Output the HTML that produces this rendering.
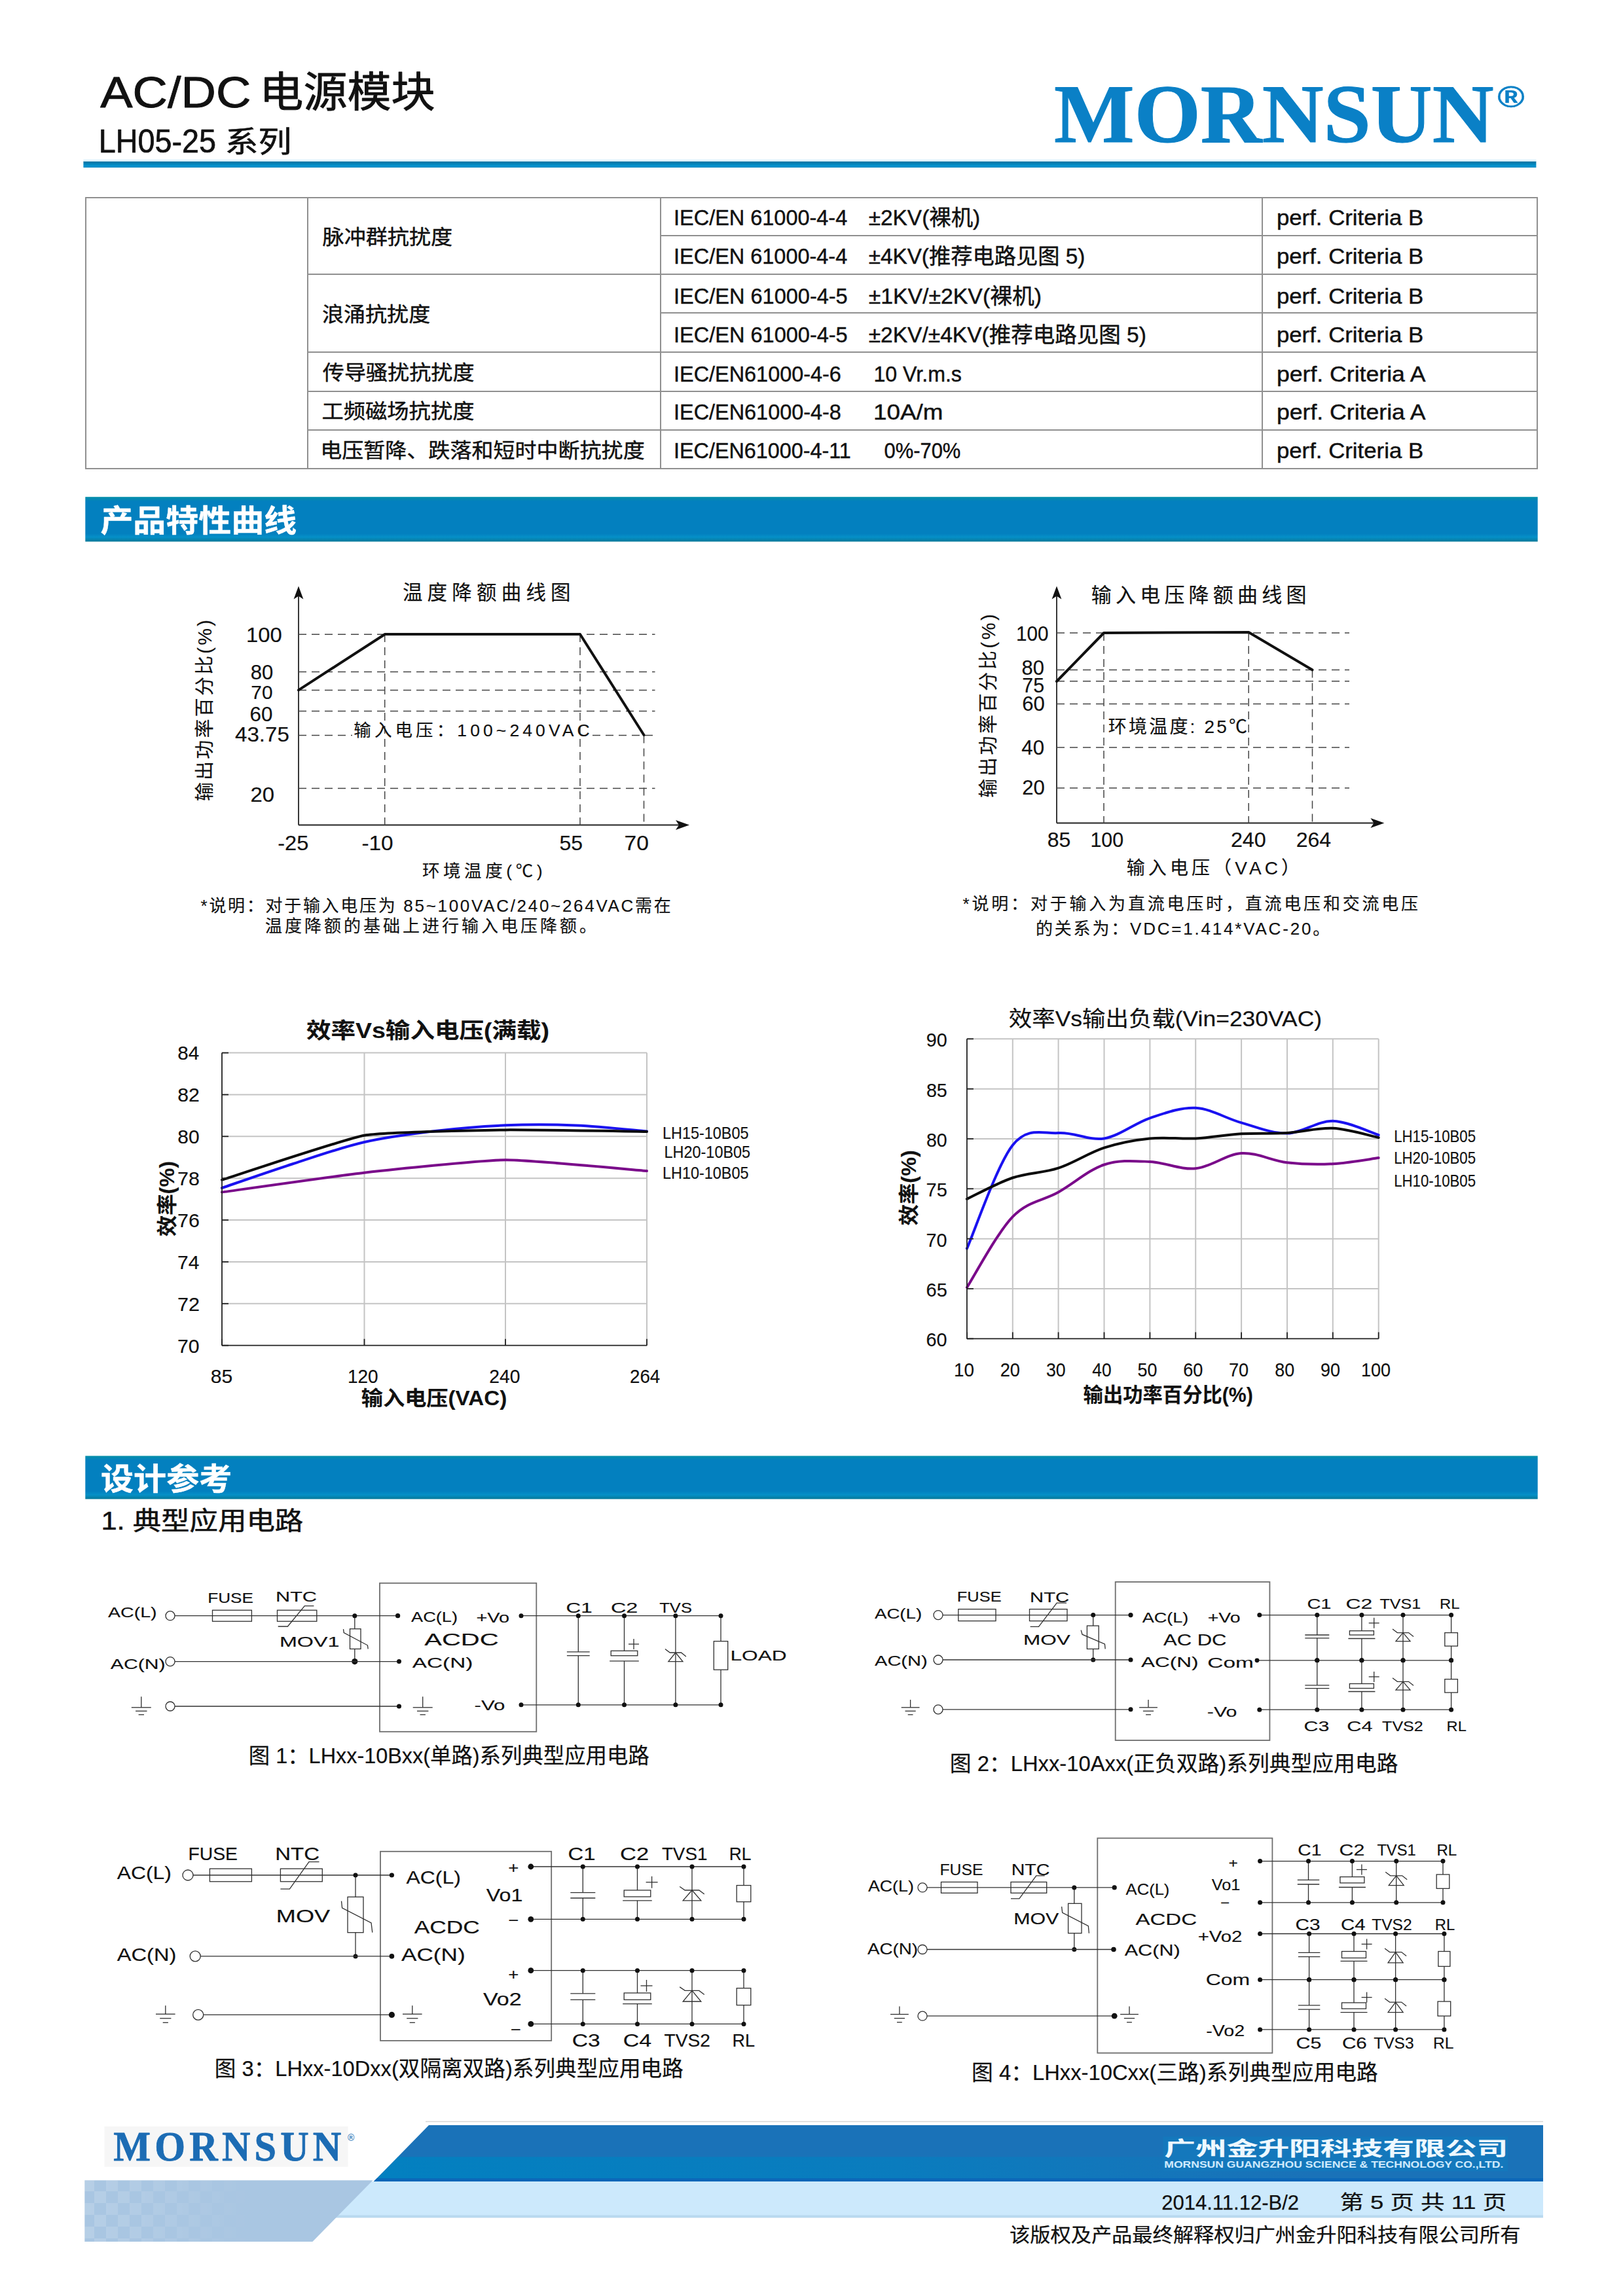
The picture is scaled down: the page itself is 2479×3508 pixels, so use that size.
<!DOCTYPE html>
<html lang="zh-CN"><head><meta charset="utf-8"><title>AC/DC 电源模块 LH05-25 系列</title>
<style>
html,body{margin:0;padding:0;background:#fff;width:2479px;height:3508px;overflow:hidden}
svg{display:block}
text{font-family:"Liberation Sans","Noto Sans CJK SC",sans-serif;color:#111;fill:currentColor;stroke:currentColor;stroke-linejoin:round}
.sf{font-family:"Liberation Serif","Noto Serif CJK SC",serif}
.w{stroke:#303030;stroke-width:1.3;fill:none}
.bx{stroke:#6e6e6e;stroke-width:1.8;fill:none}
.wf{stroke:#303030;stroke-width:1.3;fill:#fff}
.d{fill:#111;stroke:none}
.tb{stroke:#909090;stroke-width:2;fill:none}
.ds{stroke:#444;stroke-width:1.5;stroke-dasharray:12 8;fill:none}
.ax{stroke:#222;stroke-width:1.8;fill:none}
.gr{stroke:#c4c4c4;stroke-width:2;fill:none}
.cv{fill:none;stroke-width:4;stroke-linejoin:round;stroke-linecap:round}
</style></head>
<body>
<svg width="2479" height="3508" viewBox="0 0 2479 3508">
<defs><linearGradient id="rule" x1="0" y1="0" x2="0" y2="1"><stop offset="0" stop-color="#0a6f9c"/><stop offset="0.35" stop-color="#0480b4"/><stop offset="0.8" stop-color="#0096d2"/><stop offset="1" stop-color="#0383b8"/></linearGradient><linearGradient id="bar" x1="0" y1="0" x2="0" y2="1"><stop offset="0" stop-color="#0590a8"/><stop offset="0.1" stop-color="#0380bf"/><stop offset="0.82" stop-color="#0380bf"/><stop offset="0.9" stop-color="#0590c8"/><stop offset="1" stop-color="#067898"/></linearGradient></defs>
<text x="153.3" y="163.6" font-size="67.1" stroke-width="0.94" textLength="230" lengthAdjust="spacingAndGlyphs">AC/DC</text>
<text x="396.3" y="163.3" font-size="63.5" stroke-width="0.89" textLength="268.4" lengthAdjust="spacingAndGlyphs">电源模块</text>
<text x="150.7" y="232.9" font-size="50.4" stroke-width="0.71" textLength="179.3" lengthAdjust="spacingAndGlyphs">LH05-25</text>
<text x="343.8" y="232.9" font-size="45.6" stroke-width="0.64" textLength="101.6" lengthAdjust="spacingAndGlyphs">系列</text>
<rect x="127.4" y="246.4" width="2219" height="9.6" fill="url(#rule)"/>
<rect x="127.4" y="243.5" width="2219" height="3" fill="#e2f4fd"/>
<text x="1610.1" y="216.5" font-size="128.1" stroke-width="1.08" textLength="671.5" lengthAdjust="spacingAndGlyphs" font-weight="bold" style="color:#0a80c6" class="sf">MORNSUN</text>
<text x="2287.2" y="164" font-size="46" stroke-width="0.39" textLength="41.5" lengthAdjust="spacingAndGlyphs" font-weight="bold" style="color:#0a80c6">®</text>
<rect x="131" y="302" width="2217" height="414" class="tb"/>
<line x1="470" y1="302" x2="470" y2="716" class="tb"/>
<line x1="1009" y1="302" x2="1009" y2="716" class="tb"/>
<line x1="1928" y1="302" x2="1928" y2="716" class="tb"/>
<line x1="1009" y1="360" x2="2348" y2="360" class="tb"/>
<line x1="470" y1="419" x2="2348" y2="419" class="tb"/>
<line x1="1009" y1="478" x2="2348" y2="478" class="tb"/>
<line x1="470" y1="538" x2="2348" y2="538" class="tb"/>
<line x1="470" y1="598" x2="2348" y2="598" class="tb"/>
<line x1="470" y1="657" x2="2348" y2="657" class="tb"/>
<text x="492.6" y="372.5" font-size="31" stroke-width="0.43" textLength="198.5" lengthAdjust="spacingAndGlyphs">脉冲群抗扰度</text>
<text x="492" y="490.8" font-size="31" stroke-width="0.43" textLength="165.2" lengthAdjust="spacingAndGlyphs">浪涌抗扰度</text>
<text x="492.8" y="579.6" font-size="31" stroke-width="0.43" textLength="231.7" lengthAdjust="spacingAndGlyphs">传导骚扰抗扰度</text>
<text x="491.6" y="638.7" font-size="31" stroke-width="0.43" textLength="232.8" lengthAdjust="spacingAndGlyphs">工频磁场抗扰度</text>
<text x="489.2" y="699.2" font-size="31" stroke-width="0.43" textLength="495.5" lengthAdjust="spacingAndGlyphs">电压暂降、跌落和短时中断抗扰度</text>
<text x="1029.1" y="344.4" font-size="33" stroke-width="0.46" textLength="265.1" lengthAdjust="spacingAndGlyphs">IEC/EN 61000-4-4</text>
<text x="1029.1" y="403.4" font-size="33" stroke-width="0.46" textLength="265.1" lengthAdjust="spacingAndGlyphs">IEC/EN 61000-4-4</text>
<text x="1029.1" y="463.9" font-size="33" stroke-width="0.46" textLength="265.6" lengthAdjust="spacingAndGlyphs">IEC/EN 61000-4-5</text>
<text x="1029.1" y="523.4" font-size="33" stroke-width="0.46" textLength="265.6" lengthAdjust="spacingAndGlyphs">IEC/EN 61000-4-5</text>
<text x="1029.1" y="582.5" font-size="33" stroke-width="0.46" textLength="255.7" lengthAdjust="spacingAndGlyphs">IEC/EN61000-4-6</text>
<text x="1029.1" y="640.9" font-size="33" stroke-width="0.46" textLength="255.7" lengthAdjust="spacingAndGlyphs">IEC/EN61000-4-8</text>
<text x="1029.1" y="699.9" font-size="33" stroke-width="0.46" textLength="270.6" lengthAdjust="spacingAndGlyphs">IEC/EN61000-4-11</text>
<text x="1326.7" y="344.4" font-size="33" stroke-width="0.46" textLength="170.5" lengthAdjust="spacingAndGlyphs">±2KV(裸机)</text>
<text x="1326.7" y="403.4" font-size="33" stroke-width="0.46" textLength="330.7" lengthAdjust="spacingAndGlyphs">±4KV(推荐电路见图 5)</text>
<text x="1326.7" y="463.9" font-size="33" stroke-width="0.46" textLength="264.3" lengthAdjust="spacingAndGlyphs">±1KV/±2KV(裸机)</text>
<text x="1326.7" y="523.4" font-size="33" stroke-width="0.46" textLength="424.2" lengthAdjust="spacingAndGlyphs">±2KV/±4KV(推荐电路见图 5)</text>
<text x="1334.4" y="582.5" font-size="33" stroke-width="0.46" textLength="134.5" lengthAdjust="spacingAndGlyphs">10 Vr.m.s</text>
<text x="1334" y="640.9" font-size="33" stroke-width="0.46" textLength="106.4" lengthAdjust="spacingAndGlyphs">10A/m</text>
<text x="1350.5" y="699.9" font-size="33" stroke-width="0.46" textLength="116.8" lengthAdjust="spacingAndGlyphs">0%-70%</text>
<text x="1949.9" y="344.4" font-size="33" stroke-width="0.46" textLength="224.2" lengthAdjust="spacingAndGlyphs">perf. Criteria B</text>
<text x="1949.9" y="403.4" font-size="33" stroke-width="0.46" textLength="224.2" lengthAdjust="spacingAndGlyphs">perf. Criteria B</text>
<text x="1949.9" y="463.9" font-size="33" stroke-width="0.46" textLength="224.2" lengthAdjust="spacingAndGlyphs">perf. Criteria B</text>
<text x="1949.9" y="523.4" font-size="33" stroke-width="0.46" textLength="224.2" lengthAdjust="spacingAndGlyphs">perf. Criteria B</text>
<text x="1949.9" y="582.5" font-size="33" stroke-width="0.46" textLength="227.7" lengthAdjust="spacingAndGlyphs">perf. Criteria A</text>
<text x="1949.9" y="640.9" font-size="33" stroke-width="0.46" textLength="227.7" lengthAdjust="spacingAndGlyphs">perf. Criteria A</text>
<text x="1949.9" y="699.9" font-size="33" stroke-width="0.46" textLength="224.2" lengthAdjust="spacingAndGlyphs">perf. Criteria B</text>
<rect x="130.3" y="759.2" width="2218.4" height="68.3" fill="url(#bar)"/>
<text x="153.4" y="811.5" font-size="47" stroke-width="0.39" textLength="299.8" lengthAdjust="spacingAndGlyphs" font-weight="bold" style="color:#fff">产品特性曲线</text>
<rect x="130.3" y="2224.4" width="2218.4" height="66" fill="url(#bar)"/>
<text x="154" y="2275.5" font-size="47" stroke-width="0.39" textLength="200.3" lengthAdjust="spacingAndGlyphs" font-weight="bold" style="color:#fff">设计参考</text>
<text x="154.4" y="2337" font-size="39" stroke-width="0.55" textLength="308.9" lengthAdjust="spacingAndGlyphs">1. 典型应用电路</text>
<line x1="456" y1="910" x2="456" y2="1260.5" class="ax"/>
<line x1="456" y1="1260.5" x2="1040" y2="1260.5" class="ax"/>
<path d="M456 895.5 L448.6 915.5 L456 910.7 L463.4 915.5 Z" class="d"/>
<path d="M1053 1260.5 L1032 1253.1 L1037 1260.5 L1032 1267.9 Z" class="d"/>
<line x1="456" y1="969.3" x2="1000.5" y2="969.3" class="ds"/>
<line x1="456" y1="1026.5" x2="1000.5" y2="1026.5" class="ds"/>
<line x1="456" y1="1054.4" x2="1000.5" y2="1054.4" class="ds"/>
<line x1="456" y1="1086.4" x2="1000.5" y2="1086.4" class="ds"/>
<line x1="456" y1="1123.4" x2="538" y2="1123.4" class="ds"/>
<line x1="905" y1="1123.4" x2="1000.5" y2="1123.4" class="ds"/>
<line x1="456" y1="1204.6" x2="1000.5" y2="1204.6" class="ds"/>
<line x1="587.7" y1="969" x2="587.7" y2="1260.5" class="ds"/>
<line x1="886" y1="969" x2="886" y2="1260.5" class="ds"/>
<line x1="983.5" y1="1123.4" x2="983.5" y2="1260.5" class="ds"/>
<path d="M456 1054.4 L588 969 L886 969 L983.5 1123" class="cv" stroke="#111" stroke-width="5"/>
<text x="614.9" y="915.8" font-size="30.5" stroke-width="0.18" letter-spacing="7.2">温度降额曲线图</text>
<text x="376" y="981.2" font-size="32" stroke-width="0.19" textLength="54.7" lengthAdjust="spacingAndGlyphs">100</text>
<text x="382.8" y="1038.4" font-size="30.8" stroke-width="0.19" textLength="34.5" lengthAdjust="spacingAndGlyphs">80</text>
<text x="383.3" y="1068.2" font-size="29.9" stroke-width="0.18" textLength="33.2" lengthAdjust="spacingAndGlyphs">70</text>
<text x="381.6" y="1101.9" font-size="30.8" stroke-width="0.19" textLength="34.9" lengthAdjust="spacingAndGlyphs">60</text>
<text x="359" y="1133.2" font-size="30.8" stroke-width="0.19" textLength="82.8" lengthAdjust="spacingAndGlyphs">43.75</text>
<text x="382.4" y="1224.9" font-size="30.8" stroke-width="0.19" textLength="36.6" lengthAdjust="spacingAndGlyphs">20</text>
<text x="424.2" y="1298.5" font-size="30.7" stroke-width="0.18" textLength="47.1" lengthAdjust="spacingAndGlyphs">-25</text>
<text x="552.4" y="1298.5" font-size="30.7" stroke-width="0.18" textLength="48.3" lengthAdjust="spacingAndGlyphs">-10</text>
<text x="854.5" y="1298.5" font-size="31.1" stroke-width="0.19" textLength="35.6" lengthAdjust="spacingAndGlyphs">55</text>
<text x="953.6" y="1298.5" font-size="30.7" stroke-width="0.18" textLength="37.4" lengthAdjust="spacingAndGlyphs">70</text>
<text x="644.9" y="1339.8" font-size="26.5" stroke-width="0.16" letter-spacing="5.6">环境温度(℃)</text>
<text x="540.3" y="1125.1" font-size="26.5" stroke-width="0.16" letter-spacing="5.1">输入电压：100~240VAC</text>
<text x="322.8" y="1224.1" font-size="29" stroke-width="0.17" letter-spacing="3.2" transform="rotate(-90 322.8 1224.1)">输出功率百分比(%)</text>
<text x="306.6" y="1392.9" font-size="26" stroke-width="0.16" letter-spacing="2.7">*说明：对于输入电压为 85~100VAC/240~264VAC需在</text>
<text x="404.9" y="1424" font-size="26" stroke-width="0.16" letter-spacing="4">温度降额的基础上进行输入电压降额。</text>
<line x1="1614" y1="910" x2="1614" y2="1257.5" class="ax"/>
<line x1="1614" y1="1257.5" x2="2100" y2="1257.5" class="ax"/>
<path d="M1614 895.5 L1606.6 915.5 L1614 910.7 L1621.4 915.5 Z" class="d"/>
<path d="M2114.4 1257.5 L2093.4 1250.1 L2098.4 1257.5 L2093.4 1264.9 Z" class="d"/>
<line x1="1614" y1="967" x2="2061" y2="967" class="ds"/>
<line x1="1614" y1="1023.5" x2="2061" y2="1023.5" class="ds"/>
<line x1="1614" y1="1040.8" x2="2061" y2="1040.8" class="ds"/>
<line x1="1614" y1="1075.6" x2="2061" y2="1075.6" class="ds"/>
<line x1="1614" y1="1142" x2="2061" y2="1142" class="ds"/>
<line x1="1614" y1="1203.9" x2="2061" y2="1203.9" class="ds"/>
<line x1="1686" y1="967" x2="1686" y2="1257.5" class="ds"/>
<line x1="1907.2" y1="967" x2="1907.2" y2="1257.5" class="ds"/>
<line x1="2004.5" y1="1023.5" x2="2004.5" y2="1257.5" class="ds"/>
<path d="M1614 1041 L1686 967 L1907.2 966 L2004.5 1023.5" class="cv" stroke="#111" stroke-width="5"/>
<text x="1666.8" y="920.2" font-size="31" stroke-width="0.19" letter-spacing="6.2">输入电压降额曲线图</text>
<text x="1552.1" y="979.4" font-size="31.8" stroke-width="0.19" textLength="49.5" lengthAdjust="spacingAndGlyphs">100</text>
<text x="1560.6" y="1030.6" font-size="31.1" stroke-width="0.19" textLength="34.4" lengthAdjust="spacingAndGlyphs">80</text>
<text x="1561.3" y="1057.9" font-size="31.6" stroke-width="0.19" textLength="33.8" lengthAdjust="spacingAndGlyphs">75</text>
<text x="1561.2" y="1085.7" font-size="31.1" stroke-width="0.19" textLength="34.6" lengthAdjust="spacingAndGlyphs">60</text>
<text x="1560.3" y="1153.4" font-size="31.4" stroke-width="0.19" textLength="34.7" lengthAdjust="spacingAndGlyphs">40</text>
<text x="1561.2" y="1213.6" font-size="31.4" stroke-width="0.19" textLength="34.6" lengthAdjust="spacingAndGlyphs">20</text>
<text x="1599.7" y="1294.3" font-size="31" stroke-width="0.19" textLength="35.6" lengthAdjust="spacingAndGlyphs">85</text>
<text x="1665.5" y="1294.3" font-size="31" stroke-width="0.19" textLength="50.6" lengthAdjust="spacingAndGlyphs">100</text>
<text x="1879.9" y="1294.3" font-size="31" stroke-width="0.19" textLength="53.9" lengthAdjust="spacingAndGlyphs">240</text>
<text x="1979.7" y="1294.3" font-size="31" stroke-width="0.19" textLength="53.5" lengthAdjust="spacingAndGlyphs">264</text>
<text x="1720.7" y="1336.4" font-size="28" stroke-width="0.17" letter-spacing="5.1">输入电压（VAC）</text>
<text x="1692.8" y="1120.3" font-size="28" stroke-width="0.17" letter-spacing="3.2">环境温度: 25℃</text>
<text x="1520.2" y="1218.8" font-size="29" stroke-width="0.17" letter-spacing="3.6" transform="rotate(-90 1520.2 1218.8)">输出功率百分比(%)</text>
<text x="1470.6" y="1390" font-size="26" stroke-width="0.16" letter-spacing="3.8">*说明：对于输入为直流电压时，直流电压和交流电压</text>
<text x="1582" y="1427.6" font-size="26" stroke-width="0.16" letter-spacing="2.8">的关系为：VDC=1.414*VAC-20。</text>
<line x1="556.5" y1="1608.6" x2="556.5" y2="2055.7" class="gr"/>
<line x1="772" y1="1608.6" x2="772" y2="2055.7" class="gr"/>
<line x1="988" y1="1608.6" x2="988" y2="2055.7" class="gr"/>
<line x1="339" y1="1608.6" x2="988" y2="1608.6" class="gr"/>
<line x1="339" y1="1672.5" x2="988" y2="1672.5" class="gr"/>
<line x1="339" y1="1736.3" x2="988" y2="1736.3" class="gr"/>
<line x1="339" y1="1800.2" x2="988" y2="1800.2" class="gr"/>
<line x1="339" y1="1864.1" x2="988" y2="1864.1" class="gr"/>
<line x1="339" y1="1928" x2="988" y2="1928" class="gr"/>
<line x1="339" y1="1991.8" x2="988" y2="1991.8" class="gr"/>
<path d="M339 1821.5 C357.1 1819 520.4 1795.8 556.5 1791.7 C592.6 1787.6 736 1772.5 772 1772.3 C808 1772.1 970 1787.6 988 1789" class="cv" stroke="#7a0a8a"/>
<path d="M339 1815 C357.2 1808.8 411.8 1789.7 448 1778 C484.2 1766.3 520.3 1753.3 556.5 1745 C592.7 1736.7 629.1 1732.3 665 1728 C700.9 1723.7 736.2 1720.7 772 1719.3 C807.8 1717.9 844 1718 880 1719.5 C916 1721 970 1727 988 1728.5" class="cv" stroke="#1a12f0"/>
<path d="M339 1802.7 C353.5 1798.2 527.6 1739.9 556.5 1734.8 C585.4 1729.7 743.2 1726.8 772 1726.4 C800.8 1726 973.6 1728.8 988 1729" class="cv" stroke="#0a0a0a"/>
<line x1="339" y1="1608.6" x2="339" y2="2055.7" class="ax"/>
<line x1="339" y1="2055.7" x2="988" y2="2055.7" class="ax" stroke-width="3"/>
<line x1="339" y1="1608.6" x2="349" y2="1608.6" class="ax"/>
<line x1="339" y1="1672.5" x2="349" y2="1672.5" class="ax"/>
<line x1="339" y1="1736.3" x2="349" y2="1736.3" class="ax"/>
<line x1="339" y1="1800.2" x2="349" y2="1800.2" class="ax"/>
<line x1="339" y1="1864.1" x2="349" y2="1864.1" class="ax"/>
<line x1="339" y1="1928" x2="349" y2="1928" class="ax"/>
<line x1="339" y1="1991.8" x2="349" y2="1991.8" class="ax"/>
<line x1="339" y1="2055.7" x2="349" y2="2055.7" class="ax"/>
<line x1="339" y1="2045.7" x2="339" y2="2055.7" class="ax"/>
<line x1="556.5" y1="2045.7" x2="556.5" y2="2055.7" class="ax"/>
<line x1="772" y1="2045.7" x2="772" y2="2055.7" class="ax"/>
<line x1="988" y1="2045.7" x2="988" y2="2055.7" class="ax"/>
<text x="467.9" y="1586.4" font-size="33" stroke-width="0.12" textLength="371.2" lengthAdjust="spacingAndGlyphs" font-weight="bold">效率Vs输入电压(满载)</text>
<text x="271.3" y="1619.4" font-size="30" stroke-width="0.18" textLength="33" lengthAdjust="spacingAndGlyphs">84</text>
<text x="271.3" y="1683.3" font-size="30" stroke-width="0.18" textLength="33.6" lengthAdjust="spacingAndGlyphs">82</text>
<text x="271.3" y="1747.1" font-size="30" stroke-width="0.18" textLength="33.3" lengthAdjust="spacingAndGlyphs">80</text>
<text x="271" y="1811" font-size="30" stroke-width="0.18" textLength="33.8" lengthAdjust="spacingAndGlyphs">78</text>
<text x="271" y="1874.9" font-size="30" stroke-width="0.18" textLength="33.8" lengthAdjust="spacingAndGlyphs">76</text>
<text x="271" y="1938.8" font-size="30" stroke-width="0.18" textLength="33.3" lengthAdjust="spacingAndGlyphs">74</text>
<text x="271" y="2002.6" font-size="30" stroke-width="0.18" textLength="34" lengthAdjust="spacingAndGlyphs">72</text>
<text x="271" y="2066.5" font-size="30" stroke-width="0.18" textLength="33.6" lengthAdjust="spacingAndGlyphs">70</text>
<text x="321.8" y="2113.1" font-size="30" stroke-width="0.18" textLength="33.5" lengthAdjust="spacingAndGlyphs">85</text>
<text x="530.9" y="2113.1" font-size="30" stroke-width="0.18" textLength="46.7" lengthAdjust="spacingAndGlyphs">120</text>
<text x="747.2" y="2113.1" font-size="30" stroke-width="0.18" textLength="47.2" lengthAdjust="spacingAndGlyphs">240</text>
<text x="962" y="2113.1" font-size="30" stroke-width="0.18" textLength="46.2" lengthAdjust="spacingAndGlyphs">264</text>
<text x="551.8" y="2147.2" font-size="31" stroke-width="0.11" textLength="222.4" lengthAdjust="spacingAndGlyphs" font-weight="bold">输入电压(VAC)</text>
<text x="266" y="1889.3" font-size="31" stroke-width="0.11" textLength="115.4" lengthAdjust="spacingAndGlyphs" font-weight="bold" transform="rotate(-90 266 1889.3)">效率(%)</text>
<text x="1012" y="1740" font-size="25" stroke-width="0.15" textLength="131.5" lengthAdjust="spacingAndGlyphs">LH15-10B05</text>
<text x="1014.6" y="1768.5" font-size="25" stroke-width="0.15" textLength="131.5" lengthAdjust="spacingAndGlyphs">LH20-10B05</text>
<text x="1012" y="1801" font-size="25" stroke-width="0.15" textLength="131.5" lengthAdjust="spacingAndGlyphs">LH10-10B05</text>
<line x1="1546.8" y1="1587.3" x2="1546.8" y2="2045.4" class="gr"/>
<line x1="1616.6" y1="1587.3" x2="1616.6" y2="2045.4" class="gr"/>
<line x1="1686.5" y1="1587.3" x2="1686.5" y2="2045.4" class="gr"/>
<line x1="1756.4" y1="1587.3" x2="1756.4" y2="2045.4" class="gr"/>
<line x1="1826.2" y1="1587.3" x2="1826.2" y2="2045.4" class="gr"/>
<line x1="1896.1" y1="1587.3" x2="1896.1" y2="2045.4" class="gr"/>
<line x1="1966" y1="1587.3" x2="1966" y2="2045.4" class="gr"/>
<line x1="2035.8" y1="1587.3" x2="2035.8" y2="2045.4" class="gr"/>
<line x1="2105.7" y1="1587.3" x2="2105.7" y2="2045.4" class="gr"/>
<line x1="1476.9" y1="1587.3" x2="2105.7" y2="1587.3" class="gr"/>
<line x1="1476.9" y1="1663.7" x2="2105.7" y2="1663.7" class="gr"/>
<line x1="1476.9" y1="1740" x2="2105.7" y2="1740" class="gr"/>
<line x1="1476.9" y1="1816.3" x2="2105.7" y2="1816.3" class="gr"/>
<line x1="1476.9" y1="1892.7" x2="2105.7" y2="1892.7" class="gr"/>
<line x1="1476.9" y1="1969.1" x2="2105.7" y2="1969.1" class="gr"/>
<path d="M1476.9 1967.1 C1488.5 1949.1 1523.4 1883.3 1546.7 1859.1 C1570 1834.8 1593.3 1834.8 1616.6 1821.5 C1639.9 1808.3 1663.2 1787.2 1686.5 1779.5 C1709.8 1771.7 1733.1 1774 1756.3 1775 C1779.6 1775.9 1802.9 1787.5 1826.2 1785.3 C1849.5 1783.2 1872.8 1763.5 1896.1 1762 C1919.4 1760.5 1942.7 1773.6 1966 1776.3 C1989.2 1778.9 2012.5 1779.4 2035.8 1778.2 C2059.1 1777 2094.1 1770.6 2105.7 1769.1" class="cv" stroke="#7a0a8a"/>
<path d="M1476.9 1907.6 C1488.5 1881.3 1523.4 1779.2 1546.7 1749.7 C1570 1720.3 1593.3 1732.7 1616.6 1731 C1639.9 1729.2 1663.2 1743.1 1686.5 1739.4 C1709.8 1735.6 1733.1 1716.1 1756.3 1708.3 C1779.6 1700.6 1802.9 1691.6 1826.2 1692.8 C1849.5 1694 1872.8 1709 1896.1 1715.4 C1919.4 1721.9 1942.7 1732 1966 1731.6 C1989.2 1731.2 2012.5 1712.4 2035.8 1712.8 C2059.1 1713.3 2094.1 1730.6 2105.7 1734.2" class="cv" stroke="#1a12f0"/>
<path d="M1476.9 1831.9 C1488.5 1826.5 1523.4 1807.4 1546.7 1799.5 C1570 1791.7 1593.3 1792.3 1616.6 1784.7 C1639.9 1777 1663.2 1761.2 1686.5 1753.6 C1709.8 1746.1 1733.1 1741.7 1756.3 1739.4 C1779.6 1737 1802.9 1740.6 1826.2 1739.4 C1849.5 1738.2 1872.8 1733.7 1896.1 1732.3 C1919.4 1730.9 1942.7 1732.4 1966 1731 C1989.2 1729.6 2012.5 1722.7 2035.8 1723.8 C2059.1 1725 2094.1 1735.7 2105.7 1738.1" class="cv" stroke="#0a0a0a"/>
<line x1="1476.9" y1="1587.3" x2="1476.9" y2="2045.4" class="ax"/>
<line x1="1476.9" y1="2045.4" x2="2105.7" y2="2045.4" class="ax" stroke-width="3"/>
<line x1="1476.9" y1="1587.3" x2="1486.9" y2="1587.3" class="ax"/>
<line x1="1476.9" y1="1663.7" x2="1486.9" y2="1663.7" class="ax"/>
<line x1="1476.9" y1="1740" x2="1486.9" y2="1740" class="ax"/>
<line x1="1476.9" y1="1816.3" x2="1486.9" y2="1816.3" class="ax"/>
<line x1="1476.9" y1="1892.7" x2="1486.9" y2="1892.7" class="ax"/>
<line x1="1476.9" y1="1969.1" x2="1486.9" y2="1969.1" class="ax"/>
<line x1="1476.9" y1="2045.4" x2="1486.9" y2="2045.4" class="ax"/>
<line x1="1476.9" y1="2035.4" x2="1476.9" y2="2045.4" class="ax"/>
<line x1="1546.8" y1="2035.4" x2="1546.8" y2="2045.4" class="ax"/>
<line x1="1616.6" y1="2035.4" x2="1616.6" y2="2045.4" class="ax"/>
<line x1="1686.5" y1="2035.4" x2="1686.5" y2="2045.4" class="ax"/>
<line x1="1756.4" y1="2035.4" x2="1756.4" y2="2045.4" class="ax"/>
<line x1="1826.2" y1="2035.4" x2="1826.2" y2="2045.4" class="ax"/>
<line x1="1896.1" y1="2035.4" x2="1896.1" y2="2045.4" class="ax"/>
<line x1="1966" y1="2035.4" x2="1966" y2="2045.4" class="ax"/>
<line x1="2035.8" y1="2035.4" x2="2035.8" y2="2045.4" class="ax"/>
<line x1="2105.7" y1="2035.4" x2="2105.7" y2="2045.4" class="ax"/>
<text x="1540.8" y="1567.9" font-size="33" stroke-width="0.20" textLength="478.3" lengthAdjust="spacingAndGlyphs">效率Vs输出负载(Vin=230VAC)</text>
<text x="1414.7" y="1599.1" font-size="30" stroke-width="0.18" textLength="31.9" lengthAdjust="spacingAndGlyphs">90</text>
<text x="1414.9" y="1675.5" font-size="30" stroke-width="0.18" textLength="31.9" lengthAdjust="spacingAndGlyphs">85</text>
<text x="1414.9" y="1751.8" font-size="30" stroke-width="0.18" textLength="31.7" lengthAdjust="spacingAndGlyphs">80</text>
<text x="1414.6" y="1828.1" font-size="30" stroke-width="0.18" textLength="32.2" lengthAdjust="spacingAndGlyphs">75</text>
<text x="1414.6" y="1904.5" font-size="30" stroke-width="0.18" textLength="32" lengthAdjust="spacingAndGlyphs">70</text>
<text x="1414.6" y="1980.9" font-size="30" stroke-width="0.18" textLength="32.2" lengthAdjust="spacingAndGlyphs">65</text>
<text x="1414.6" y="2057.2" font-size="30" stroke-width="0.18" textLength="32" lengthAdjust="spacingAndGlyphs">60</text>
<text x="1457.1" y="2102.8" font-size="30" stroke-width="0.18" textLength="30.9" lengthAdjust="spacingAndGlyphs">10</text>
<text x="1527.7" y="2102.8" font-size="30" stroke-width="0.18" textLength="30.2" lengthAdjust="spacingAndGlyphs">20</text>
<text x="1598" y="2102.8" font-size="30" stroke-width="0.18" textLength="29.7" lengthAdjust="spacingAndGlyphs">30</text>
<text x="1668.3" y="2102.8" font-size="30" stroke-width="0.18" textLength="29.3" lengthAdjust="spacingAndGlyphs">40</text>
<text x="1737.6" y="2102.8" font-size="30" stroke-width="0.18" textLength="29.9" lengthAdjust="spacingAndGlyphs">50</text>
<text x="1807.2" y="2102.8" font-size="30" stroke-width="0.18" textLength="30.2" lengthAdjust="spacingAndGlyphs">60</text>
<text x="1877" y="2102.8" font-size="30" stroke-width="0.18" textLength="30.2" lengthAdjust="spacingAndGlyphs">70</text>
<text x="1947.2" y="2102.8" font-size="30" stroke-width="0.18" textLength="29.9" lengthAdjust="spacingAndGlyphs">80</text>
<text x="2016.9" y="2102.8" font-size="30" stroke-width="0.18" textLength="30" lengthAdjust="spacingAndGlyphs">90</text>
<text x="2078.9" y="2102.8" font-size="30" stroke-width="0.18" textLength="45.1" lengthAdjust="spacingAndGlyphs">100</text>
<text x="1654.6" y="2142" font-size="31" stroke-width="0.11" textLength="259.3" lengthAdjust="spacingAndGlyphs" font-weight="bold">输出功率百分比(%)</text>
<text x="1399" y="1872.5" font-size="31" stroke-width="0.11" textLength="115.3" lengthAdjust="spacingAndGlyphs" font-weight="bold" transform="rotate(-90 1399 1872.5)">效率(%)</text>
<text x="2129.2" y="1745" font-size="25" stroke-width="0.15" textLength="124.9" lengthAdjust="spacingAndGlyphs">LH15-10B05</text>
<text x="2129.2" y="1777.5" font-size="25" stroke-width="0.15" textLength="124.9" lengthAdjust="spacingAndGlyphs">LH20-10B05</text>
<text x="2129.2" y="1813" font-size="25" stroke-width="0.15" textLength="124.9" lengthAdjust="spacingAndGlyphs">LH10-10B05</text>
<rect x="580" y="2418.8" width="239.3" height="227" class="bx"/>
<line x1="267" y1="2468.7" x2="607.6" y2="2468.7" class="w"/>
<circle cx="260" cy="2468.7" r="7" class="wf"/>
<circle cx="607.6" cy="2468.7" r="3.6" class="d"/>
<rect x="324.5" y="2460.2" width="59.9" height="17" class="w"/>
<rect x="423.5" y="2460.2" width="60.3" height="17" class="w"/>
<path d="M424.7 2485 L439.4 2485 L465.3 2453.6 L479.4 2453.6" class="w"/>
<line x1="541.8" y1="2468.7" x2="541.8" y2="2538.6" class="w"/>
<circle cx="541.8" cy="2468.7" r="3.5" class="d"/>
<circle cx="541.8" cy="2538.6" r="4.6" class="d"/>
<rect x="534.5" y="2488.7" width="16.5" height="30.7" class="wf"/>
<path d="M524.5 2489.1 L525.2 2494.6 L561.4 2513.8 L562.2 2519.4" class="w"/>
<line x1="267" y1="2538.6" x2="609.5" y2="2538.6" class="w"/>
<circle cx="260" cy="2538.6" r="7" class="wf"/>
<circle cx="609.5" cy="2538.6" r="3.5" class="d"/>
<line x1="267" y1="2607" x2="609.5" y2="2607" class="w"/>
<circle cx="260" cy="2607" r="7" class="wf"/>
<circle cx="609.5" cy="2607" r="3.5" class="d"/>
<line x1="215.8" y1="2592.2" x2="215.8" y2="2608.8" class="w"/>
<line x1="200.8" y1="2608.8" x2="230.8" y2="2608.8" class="w"/>
<line x1="207.1" y1="2614.3" x2="224.5" y2="2614.3" class="w"/>
<line x1="211.6" y1="2619.8" x2="220" y2="2619.8" class="w"/>
<line x1="645.7" y1="2592.2" x2="645.7" y2="2608.8" class="w"/>
<line x1="630.7" y1="2608.8" x2="660.7" y2="2608.8" class="w"/>
<line x1="637" y1="2614.3" x2="654.4" y2="2614.3" class="w"/>
<line x1="641.5" y1="2619.8" x2="649.9" y2="2619.8" class="w"/>
<line x1="796" y1="2468.7" x2="1101" y2="2468.7" class="w"/>
<circle cx="796" cy="2468.7" r="3.5" class="d"/>
<line x1="796" y1="2604.8" x2="1101" y2="2604.8" class="w"/>
<circle cx="796" cy="2604.8" r="3.5" class="d"/>
<line x1="883.3" y1="2468.7" x2="883.3" y2="2523.8" class="w"/>
<line x1="883.3" y1="2529.7" x2="883.3" y2="2604.8" class="w"/>
<line x1="865.9" y1="2523.8" x2="900.7" y2="2523.8" class="w"/>
<line x1="865.9" y1="2529.7" x2="900.7" y2="2529.7" class="w"/>
<circle cx="883.3" cy="2468.7" r="3.5" class="d"/>
<circle cx="883.3" cy="2604.8" r="3.5" class="d"/>
<line x1="953.5" y1="2468.7" x2="953.5" y2="2522.3" class="w"/>
<line x1="953.5" y1="2537.9" x2="953.5" y2="2604.8" class="w"/>
<rect x="933.2" y="2522.3" width="40.6" height="7.4" class="w"/>
<line x1="931.2" y1="2537.9" x2="975.8" y2="2537.9" class="w"/>
<line x1="960" y1="2512" x2="976" y2="2512" class="w"/>
<line x1="968" y1="2504" x2="968" y2="2520" class="w"/>
<circle cx="953.5" cy="2468.7" r="3.5" class="d"/>
<circle cx="953.5" cy="2604.8" r="3.5" class="d"/>
<line x1="1031.9" y1="2468.7" x2="1031.9" y2="2604.8" class="w"/>
<path d="M1031.9 2525 L1020.9 2538.6 L1042.9 2538.6 L1031.9 2525" class="w"/>
<path d="M1015.9 2519.5 L1023.3 2525 L1040.5 2525 L1047.9 2531" class="w"/>
<circle cx="1031.9" cy="2468.7" r="3.5" class="d"/>
<circle cx="1031.9" cy="2604.8" r="3.5" class="d"/>
<line x1="1101" y1="2468.7" x2="1101" y2="2507.6" class="w"/>
<line x1="1101" y1="2551.2" x2="1101" y2="2604.8" class="w"/>
<rect x="1090.3" y="2507.6" width="21.4" height="43.6" class="w"/>
<circle cx="1101" cy="2468.7" r="3.5" class="d"/>
<circle cx="1101" cy="2604.8" r="3.5" class="d"/>
<text x="165.1" y="2470.5" font-size="22" stroke-width="0.15" textLength="74.5" lengthAdjust="spacingAndGlyphs">AC(L)</text>
<text x="168.8" y="2550.2" font-size="22" stroke-width="0.15" textLength="83.8" lengthAdjust="spacingAndGlyphs">AC(N)</text>
<text x="317.2" y="2449.3" font-size="22" stroke-width="0.15" textLength="69.7" lengthAdjust="spacingAndGlyphs">FUSE</text>
<text x="421" y="2446.7" font-size="22" stroke-width="0.15" textLength="63" lengthAdjust="spacingAndGlyphs">NTC</text>
<text x="426.9" y="2516.2" font-size="22" stroke-width="0.15" textLength="91.5" lengthAdjust="spacingAndGlyphs">MOV1</text>
<text x="628" y="2477.8" font-size="22" stroke-width="0.15" textLength="71" lengthAdjust="spacingAndGlyphs">AC(L)</text>
<text x="648.3" y="2514" font-size="26" stroke-width="0.18" textLength="113.3" lengthAdjust="spacingAndGlyphs">ACDC</text>
<text x="629.8" y="2547.6" font-size="22" stroke-width="0.15" textLength="92.5" lengthAdjust="spacingAndGlyphs">AC(N)</text>
<text x="727.4" y="2478.5" font-size="22" stroke-width="0.15" textLength="50.6" lengthAdjust="spacingAndGlyphs">+Vo</text>
<text x="724.6" y="2613.4" font-size="22" stroke-width="0.15" textLength="46.8" lengthAdjust="spacingAndGlyphs">-Vo</text>
<text x="864.6" y="2464.4" font-size="22" stroke-width="0.15" textLength="40.1" lengthAdjust="spacingAndGlyphs">C1</text>
<text x="933" y="2464.4" font-size="22" stroke-width="0.15" textLength="41.3" lengthAdjust="spacingAndGlyphs">C2</text>
<text x="1007.3" y="2464.4" font-size="22" stroke-width="0.15" textLength="49.6" lengthAdjust="spacingAndGlyphs">TVS</text>
<text x="1115.5" y="2536.5" font-size="22" stroke-width="0.15" textLength="86.1" lengthAdjust="spacingAndGlyphs">LOAD</text>
<text x="379.8" y="2694.4" font-size="33" stroke-width="0.23" textLength="612" lengthAdjust="spacingAndGlyphs">图 1：LHxx-10Bxx(单路)系列典型应用电路</text>
<rect x="1703.7" y="2417" width="235.7" height="242" class="bx"/>
<line x1="1440" y1="2467.6" x2="1727" y2="2467.6" class="w"/>
<circle cx="1433" cy="2467.6" r="7" class="wf"/>
<circle cx="1727" cy="2467.6" r="3.6" class="d"/>
<rect x="1463.8" y="2458.6" width="57.2" height="18" class="w"/>
<rect x="1572.5" y="2458.6" width="57.5" height="18" class="w"/>
<path d="M1573.6 2485.4 L1586.5 2485.4 L1614.2 2449.1 L1629 2449.1" class="w"/>
<line x1="1669.7" y1="2467.6" x2="1669.7" y2="2536" class="w"/>
<circle cx="1669.7" cy="2467.6" r="3.5" class="d"/>
<circle cx="1669.7" cy="2536" r="3.5" class="d"/>
<rect x="1660.4" y="2484" width="17.8" height="35.4" class="wf"/>
<path d="M1651.2 2490.6 L1653 2497.2 L1687.4 2512 L1688.2 2519.4" class="w"/>
<line x1="1440" y1="2536" x2="1727" y2="2536" class="w"/>
<circle cx="1433" cy="2536" r="7" class="wf"/>
<circle cx="1727" cy="2536" r="3.5" class="d"/>
<line x1="1440" y1="2611.8" x2="1727" y2="2611.8" class="w"/>
<circle cx="1433" cy="2611.8" r="7" class="wf"/>
<circle cx="1727" cy="2611.8" r="3.5" class="d"/>
<line x1="1390.6" y1="2597" x2="1390.6" y2="2608.8" class="w"/>
<line x1="1376.7" y1="2608.8" x2="1404.5" y2="2608.8" class="w"/>
<line x1="1382.5" y1="2614.3" x2="1398.7" y2="2614.3" class="w"/>
<line x1="1386.7" y1="2619.8" x2="1394.5" y2="2619.8" class="w"/>
<line x1="1754" y1="2597" x2="1754" y2="2608.8" class="w"/>
<line x1="1740.1" y1="2608.8" x2="1767.9" y2="2608.8" class="w"/>
<line x1="1745.9" y1="2614.3" x2="1762.1" y2="2614.3" class="w"/>
<line x1="1750.1" y1="2619.8" x2="1757.9" y2="2619.8" class="w"/>
<line x1="1923.8" y1="2467.6" x2="2216.6" y2="2467.6" class="w"/>
<circle cx="1923.8" cy="2467.6" r="3.5" class="d"/>
<line x1="1920" y1="2536.8" x2="2216.6" y2="2536.8" class="w"/>
<circle cx="1920" cy="2536.8" r="3.4" class="d"/>
<line x1="1923.8" y1="2612.2" x2="2216.6" y2="2612.2" class="w"/>
<circle cx="1923.8" cy="2612.2" r="3.5" class="d"/>
<line x1="2011.8" y1="2467.6" x2="2011.8" y2="2498" class="w"/>
<line x1="2011.8" y1="2502.8" x2="2011.8" y2="2536.8" class="w"/>
<line x1="1993.3" y1="2498" x2="2030.3" y2="2498" class="w"/>
<line x1="1993.3" y1="2502.8" x2="2030.3" y2="2502.8" class="w"/>
<circle cx="2011.8" cy="2467.6" r="3.5" class="d"/>
<circle cx="2011.8" cy="2536.8" r="3.5" class="d"/>
<line x1="2079.9" y1="2467.6" x2="2079.9" y2="2491.7" class="w"/>
<line x1="2079.9" y1="2503.5" x2="2079.9" y2="2536.8" class="w"/>
<rect x="2061.4" y="2491.7" width="37" height="6.3" class="w"/>
<line x1="2059.4" y1="2503.5" x2="2100.4" y2="2503.5" class="w"/>
<line x1="2090.7" y1="2479.8" x2="2106.7" y2="2479.8" class="w"/>
<line x1="2098.7" y1="2471.8" x2="2098.7" y2="2487.8" class="w"/>
<circle cx="2079.9" cy="2467.6" r="3.5" class="d"/>
<circle cx="2079.9" cy="2536.8" r="3.5" class="d"/>
<line x1="2143" y1="2467.6" x2="2143" y2="2536.8" class="w"/>
<path d="M2143 2494.6 L2132 2507.6 L2154 2507.6 L2143 2494.6" class="w"/>
<path d="M2127 2489.1 L2134.4 2494.6 L2151.6 2494.6 L2159 2500.6" class="w"/>
<circle cx="2143" cy="2467.6" r="3.5" class="d"/>
<circle cx="2143" cy="2536.8" r="3.5" class="d"/>
<line x1="2216.6" y1="2467.6" x2="2216.6" y2="2494.6" class="w"/>
<line x1="2216.6" y1="2515" x2="2216.6" y2="2536.8" class="w"/>
<rect x="2206.8" y="2494.6" width="19.6" height="20.4" class="w"/>
<circle cx="2216.6" cy="2467.6" r="3.5" class="d"/>
<circle cx="2216.6" cy="2536.8" r="3.5" class="d"/>
<line x1="2011.8" y1="2536.8" x2="2011.8" y2="2574.8" class="w"/>
<line x1="2011.8" y1="2579.6" x2="2011.8" y2="2612.2" class="w"/>
<line x1="1993.3" y1="2574.8" x2="2030.3" y2="2574.8" class="w"/>
<line x1="1993.3" y1="2579.6" x2="2030.3" y2="2579.6" class="w"/>
<circle cx="2011.8" cy="2536.8" r="3.5" class="d"/>
<circle cx="2011.8" cy="2612.2" r="3.5" class="d"/>
<line x1="2079.9" y1="2536.8" x2="2079.9" y2="2572.5" class="w"/>
<line x1="2079.9" y1="2584.5" x2="2079.9" y2="2612.2" class="w"/>
<rect x="2061.4" y="2572.5" width="37" height="7" class="w"/>
<line x1="2059.4" y1="2584.5" x2="2100.4" y2="2584.5" class="w"/>
<line x1="2090.7" y1="2561.9" x2="2106.7" y2="2561.9" class="w"/>
<line x1="2098.7" y1="2553.9" x2="2098.7" y2="2569.9" class="w"/>
<circle cx="2079.9" cy="2536.8" r="3.5" class="d"/>
<circle cx="2079.9" cy="2612.2" r="3.5" class="d"/>
<line x1="2143" y1="2536.8" x2="2143" y2="2612.2" class="w"/>
<path d="M2143 2569.3 L2132 2582.2 L2154 2582.2 L2143 2569.3" class="w"/>
<path d="M2127 2563.8 L2134.4 2569.3 L2151.6 2569.3 L2159 2575.3" class="w"/>
<circle cx="2143" cy="2536.8" r="3.5" class="d"/>
<circle cx="2143" cy="2612.2" r="3.5" class="d"/>
<line x1="2216.6" y1="2536.8" x2="2216.6" y2="2565.6" class="w"/>
<line x1="2216.6" y1="2586" x2="2216.6" y2="2612.2" class="w"/>
<rect x="2206.8" y="2565.6" width="19.6" height="20.4" class="w"/>
<circle cx="2216.6" cy="2536.8" r="3.5" class="d"/>
<circle cx="2216.6" cy="2612.2" r="3.5" class="d"/>
<text x="1336" y="2473.3" font-size="22" stroke-width="0.15" textLength="72.1" lengthAdjust="spacingAndGlyphs">AC(L)</text>
<text x="1336" y="2544.7" font-size="22" stroke-width="0.15" textLength="80.7" lengthAdjust="spacingAndGlyphs">AC(N)</text>
<text x="1461.8" y="2446.7" font-size="22" stroke-width="0.15" textLength="67.8" lengthAdjust="spacingAndGlyphs">FUSE</text>
<text x="1573.1" y="2447.9" font-size="22" stroke-width="0.15" textLength="60" lengthAdjust="spacingAndGlyphs">NTC</text>
<text x="1562.9" y="2512.5" font-size="22" stroke-width="0.15" textLength="71.8" lengthAdjust="spacingAndGlyphs">MOV</text>
<text x="1744.7" y="2478.5" font-size="22" stroke-width="0.15" textLength="70.7" lengthAdjust="spacingAndGlyphs">AC(L)</text>
<text x="1844.7" y="2478.5" font-size="22" stroke-width="0.15" textLength="49.8" lengthAdjust="spacingAndGlyphs">+Vo</text>
<text x="1777" y="2513.9" font-size="24" stroke-width="0.17" textLength="96.4" lengthAdjust="spacingAndGlyphs">AC DC</text>
<text x="1743" y="2546.5" font-size="22" stroke-width="0.15" textLength="87.5" lengthAdjust="spacingAndGlyphs">AC(N)</text>
<text x="1844.3" y="2547.6" font-size="22" stroke-width="0.15" textLength="70.5" lengthAdjust="spacingAndGlyphs">Com</text>
<text x="1843.8" y="2622.7" font-size="22" stroke-width="0.15" textLength="45.5" lengthAdjust="spacingAndGlyphs">-Vo</text>
<text x="1996.4" y="2457.9" font-size="22" stroke-width="0.15" textLength="37.1" lengthAdjust="spacingAndGlyphs">C1</text>
<text x="2055.4" y="2457.9" font-size="22" stroke-width="0.15" textLength="40.7" lengthAdjust="spacingAndGlyphs">C2</text>
<text x="2107.5" y="2457.9" font-size="22" stroke-width="0.15" textLength="62.7" lengthAdjust="spacingAndGlyphs">TVS1</text>
<text x="2199.1" y="2457.9" font-size="22" stroke-width="0.15" textLength="30.5" lengthAdjust="spacingAndGlyphs">RL</text>
<text x="1991.5" y="2644.5" font-size="22" stroke-width="0.15" textLength="38.8" lengthAdjust="spacingAndGlyphs">C3</text>
<text x="2057.3" y="2644.5" font-size="22" stroke-width="0.15" textLength="39.3" lengthAdjust="spacingAndGlyphs">C4</text>
<text x="2111.1" y="2644.5" font-size="22" stroke-width="0.15" textLength="62.7" lengthAdjust="spacingAndGlyphs">TVS2</text>
<text x="2209.6" y="2644.5" font-size="22" stroke-width="0.15" textLength="30.2" lengthAdjust="spacingAndGlyphs">RL</text>
<text x="1450.8" y="2705.9" font-size="33" stroke-width="0.23" textLength="684.6" lengthAdjust="spacingAndGlyphs">图 2：LHxx-10Axx(正负双路)系列典型应用电路</text>
<rect x="581" y="2828.8" width="261.2" height="289.1" class="bx"/>
<line x1="295" y1="2865" x2="598.4" y2="2865" class="w"/>
<circle cx="287" cy="2865" r="8" class="wf"/>
<circle cx="598.4" cy="2865" r="3.6" class="d"/>
<rect x="320.4" y="2855.2" width="64" height="19.6" class="w"/>
<rect x="428.4" y="2855.2" width="63.9" height="19.6" class="w"/>
<path d="M428.4 2886.1 L442.4 2886.1 L472 2844.7 L487.5 2844.7" class="w"/>
<line x1="543" y1="2865" x2="543" y2="2988.9" class="w"/>
<circle cx="543" cy="2865" r="3.5" class="d"/>
<circle cx="543" cy="2988.9" r="3.5" class="d"/>
<rect x="531" y="2898.3" width="24" height="54.4" class="wf"/>
<path d="M521.5 2904.6 L522.6 2915 L567 2937.9 L568.8 2952.7" class="w"/>
<line x1="306" y1="2988.9" x2="598.4" y2="2988.9" class="w"/>
<circle cx="298.2" cy="2988.9" r="8" class="wf"/>
<circle cx="598.4" cy="2988.9" r="3.8" class="d"/>
<line x1="310" y1="3078.4" x2="598.4" y2="3078.4" class="w"/>
<circle cx="302.7" cy="3078.4" r="8" class="wf"/>
<circle cx="598.4" cy="3078.4" r="4.6" class="d"/>
<line x1="252.8" y1="3064.3" x2="252.8" y2="3077.3" class="w"/>
<line x1="238" y1="3077.3" x2="267.6" y2="3077.3" class="w"/>
<line x1="244.2" y1="3083.8" x2="261.4" y2="3083.8" class="w"/>
<line x1="248.7" y1="3090.3" x2="256.9" y2="3090.3" class="w"/>
<line x1="629.8" y1="3064.3" x2="629.8" y2="3077.3" class="w"/>
<line x1="615" y1="3077.3" x2="644.6" y2="3077.3" class="w"/>
<line x1="621.2" y1="3083.8" x2="638.4" y2="3083.8" class="w"/>
<line x1="625.7" y1="3090.3" x2="633.9" y2="3090.3" class="w"/>
<line x1="810.8" y1="2852" x2="1136" y2="2852" class="w"/>
<circle cx="810.8" cy="2852" r="4.4" class="d"/>
<line x1="810.8" y1="2932.3" x2="1136" y2="2932.3" class="w"/>
<circle cx="810.8" cy="2932.3" r="4.4" class="d"/>
<line x1="810.8" y1="3010.7" x2="1136" y2="3010.7" class="w"/>
<circle cx="810.8" cy="3010.7" r="4.4" class="d"/>
<line x1="810.8" y1="3092.4" x2="1136" y2="3092.4" class="w"/>
<circle cx="810.8" cy="3092.4" r="4.4" class="d"/>
<line x1="890.3" y1="2852" x2="890.3" y2="2891.7" class="w"/>
<line x1="890.3" y1="2900" x2="890.3" y2="2932.3" class="w"/>
<line x1="871.3" y1="2891.7" x2="909.3" y2="2891.7" class="w"/>
<line x1="871.3" y1="2900" x2="909.3" y2="2900" class="w"/>
<circle cx="890.3" cy="2852" r="3.5" class="d"/>
<circle cx="890.3" cy="2932.3" r="3.5" class="d"/>
<line x1="973.5" y1="2852" x2="973.5" y2="2888" class="w"/>
<line x1="973.5" y1="2903.9" x2="973.5" y2="2932.3" class="w"/>
<rect x="953.2" y="2888" width="40.6" height="10" class="w"/>
<line x1="951.2" y1="2903.9" x2="995.8" y2="2903.9" class="w"/>
<line x1="986.6" y1="2875.8" x2="1004.6" y2="2875.8" class="w"/>
<line x1="995.6" y1="2866.8" x2="995.6" y2="2884.8" class="w"/>
<circle cx="973.5" cy="2852" r="3.5" class="d"/>
<circle cx="973.5" cy="2932.3" r="3.5" class="d"/>
<line x1="1057" y1="2852" x2="1057" y2="2932.3" class="w"/>
<path d="M1057 2888 L1043.2 2903.9 L1070.8 2903.9 L1057 2888" class="w"/>
<path d="M1038.2 2882.5 L1046.2 2888 L1067.8 2888 L1075.8 2894" class="w"/>
<circle cx="1057" cy="2852" r="3.5" class="d"/>
<circle cx="1057" cy="2932.3" r="3.5" class="d"/>
<line x1="1136" y1="2852" x2="1136" y2="2880.6" class="w"/>
<line x1="1136" y1="2905.7" x2="1136" y2="2932.3" class="w"/>
<rect x="1125.2" y="2880.6" width="21.6" height="25.1" class="w"/>
<circle cx="1136" cy="2852" r="3.5" class="d"/>
<circle cx="1136" cy="2932.3" r="3.5" class="d"/>
<line x1="890.3" y1="3010.7" x2="890.3" y2="3045.8" class="w"/>
<line x1="890.3" y1="3055.4" x2="890.3" y2="3092.4" class="w"/>
<line x1="871.3" y1="3045.8" x2="909.3" y2="3045.8" class="w"/>
<line x1="871.3" y1="3055.4" x2="909.3" y2="3055.4" class="w"/>
<circle cx="890.3" cy="3010.7" r="3.5" class="d"/>
<circle cx="890.3" cy="3092.4" r="3.5" class="d"/>
<line x1="973.5" y1="3010.7" x2="973.5" y2="3045" class="w"/>
<line x1="973.5" y1="3061.7" x2="973.5" y2="3092.4" class="w"/>
<rect x="953.2" y="3045" width="40.6" height="10.4" class="w"/>
<line x1="951.2" y1="3061.7" x2="995.8" y2="3061.7" class="w"/>
<line x1="978.5" y1="3034" x2="996.5" y2="3034" class="w"/>
<line x1="987.5" y1="3025" x2="987.5" y2="3043" class="w"/>
<circle cx="973.5" cy="3010.7" r="3.5" class="d"/>
<circle cx="973.5" cy="3092.4" r="3.5" class="d"/>
<line x1="1057" y1="3010.7" x2="1057" y2="3092.4" class="w"/>
<path d="M1057 3041.4 L1043.2 3058 L1070.8 3058 L1057 3041.4" class="w"/>
<path d="M1038.2 3035.9 L1046.2 3041.4 L1067.8 3041.4 L1075.8 3047.4" class="w"/>
<circle cx="1057" cy="3010.7" r="3.5" class="d"/>
<circle cx="1057" cy="3092.4" r="3.5" class="d"/>
<line x1="1136" y1="3010.7" x2="1136" y2="3037.7" class="w"/>
<line x1="1136" y1="3063.6" x2="1136" y2="3092.4" class="w"/>
<rect x="1125.2" y="3037.7" width="21.6" height="25.9" class="w"/>
<circle cx="1136" cy="3010.7" r="3.5" class="d"/>
<circle cx="1136" cy="3092.4" r="3.5" class="d"/>
<text x="178.8" y="2871.4" font-size="27" stroke-width="0.19" textLength="83" lengthAdjust="spacingAndGlyphs">AC(L)</text>
<text x="178.8" y="2996" font-size="27" stroke-width="0.19" textLength="90.6" lengthAdjust="spacingAndGlyphs">AC(N)</text>
<text x="287.4" y="2841.8" font-size="27" stroke-width="0.19" textLength="75.6" lengthAdjust="spacingAndGlyphs">FUSE</text>
<text x="420.2" y="2841.8" font-size="27" stroke-width="0.19" textLength="67.8" lengthAdjust="spacingAndGlyphs">NTC</text>
<text x="421.8" y="2936.9" font-size="27" stroke-width="0.19" textLength="82.3" lengthAdjust="spacingAndGlyphs">MOV</text>
<text x="620.6" y="2878.1" font-size="27" stroke-width="0.19" textLength="83.2" lengthAdjust="spacingAndGlyphs">AC(L)</text>
<text x="632.8" y="2954.2" font-size="27" stroke-width="0.19" textLength="100.1" lengthAdjust="spacingAndGlyphs">ACDC</text>
<text x="613" y="2996.4" font-size="27" stroke-width="0.19" textLength="97.6" lengthAdjust="spacingAndGlyphs">AC(N)</text>
<text x="776.3" y="2862.2" font-size="24" stroke-width="0.17" textLength="16.1" lengthAdjust="spacingAndGlyphs">+</text>
<text x="776.3" y="2942" font-size="24" stroke-width="0.17" textLength="15.9" lengthAdjust="spacingAndGlyphs">−</text>
<text x="742.8" y="2905.4" font-size="27" stroke-width="0.19" textLength="55.6" lengthAdjust="spacingAndGlyphs">Vo1</text>
<text x="776.3" y="3024.6" font-size="24" stroke-width="0.17" textLength="16.1" lengthAdjust="spacingAndGlyphs">+</text>
<text x="738" y="3063.7" font-size="27" stroke-width="0.19" textLength="58.8" lengthAdjust="spacingAndGlyphs">Vo2</text>
<text x="779.8" y="3109.1" font-size="24" stroke-width="0.17" textLength="15.9" lengthAdjust="spacingAndGlyphs">−</text>
<text x="867.6" y="2842.2" font-size="27" stroke-width="0.19" textLength="42" lengthAdjust="spacingAndGlyphs">C1</text>
<text x="947" y="2842.2" font-size="27" stroke-width="0.19" textLength="44.1" lengthAdjust="spacingAndGlyphs">C2</text>
<text x="1010.9" y="2842.2" font-size="27" stroke-width="0.19" textLength="69.5" lengthAdjust="spacingAndGlyphs">TVS1</text>
<text x="1113.7" y="2842.2" font-size="27" stroke-width="0.19" textLength="33.7" lengthAdjust="spacingAndGlyphs">RL</text>
<text x="873.8" y="3126.9" font-size="27" stroke-width="0.19" textLength="43" lengthAdjust="spacingAndGlyphs">C3</text>
<text x="951.8" y="3126.9" font-size="27" stroke-width="0.19" textLength="43.4" lengthAdjust="spacingAndGlyphs">C4</text>
<text x="1014.6" y="3126.9" font-size="27" stroke-width="0.19" textLength="70.3" lengthAdjust="spacingAndGlyphs">TVS2</text>
<text x="1118.4" y="3126.9" font-size="27" stroke-width="0.19" textLength="34.5" lengthAdjust="spacingAndGlyphs">RL</text>
<text x="327.8" y="3172.4" font-size="33" stroke-width="0.23" textLength="716" lengthAdjust="spacingAndGlyphs">图 3：LHxx-10Dxx(双隔离双路)系列典型应用电路</text>
<rect x="1676.3" y="2808.5" width="267.1" height="328.2" class="bx"/>
<line x1="1416" y1="2883.9" x2="1702.2" y2="2883.9" class="w"/>
<circle cx="1409" cy="2883.9" r="7" class="wf"/>
<circle cx="1702.2" cy="2883.9" r="3.6" class="d"/>
<rect x="1437.5" y="2875.5" width="55.5" height="16.8" class="w"/>
<rect x="1544" y="2875.5" width="54.7" height="16.8" class="w"/>
<path d="M1544 2900.9 L1556.9 2900.9 L1582.8 2865.8 L1595.7 2865.8" class="w"/>
<line x1="1640.8" y1="2883.9" x2="1640.8" y2="2978.5" class="w"/>
<circle cx="1640.8" cy="2883.9" r="3.5" class="d"/>
<circle cx="1640.8" cy="2978.5" r="3.5" class="d"/>
<rect x="1631.6" y="2908.3" width="20.4" height="45.4" class="wf"/>
<path d="M1621.6 2913.1 L1622.7 2922.3 L1662.3 2942.7 L1663.4 2953.7" class="w"/>
<line x1="1416" y1="2978.5" x2="1701" y2="2978.5" class="w"/>
<circle cx="1409" cy="2978.5" r="7" class="wf"/>
<circle cx="1701" cy="2978.5" r="3.8" class="d"/>
<line x1="1416" y1="3080.2" x2="1702.2" y2="3080.2" class="w"/>
<circle cx="1409" cy="3080.2" r="7" class="wf"/>
<circle cx="1702.2" cy="3080.2" r="4.4" class="d"/>
<line x1="1373.9" y1="3065.4" x2="1373.9" y2="3077.6" class="w"/>
<line x1="1360" y1="3077.6" x2="1387.8" y2="3077.6" class="w"/>
<line x1="1365.8" y1="3083.7" x2="1382" y2="3083.7" class="w"/>
<line x1="1370" y1="3089.8" x2="1377.8" y2="3089.8" class="w"/>
<line x1="1725" y1="3065.4" x2="1725" y2="3077.6" class="w"/>
<line x1="1711.1" y1="3077.6" x2="1738.9" y2="3077.6" class="w"/>
<line x1="1716.9" y1="3083.7" x2="1733.1" y2="3083.7" class="w"/>
<line x1="1721.1" y1="3089.8" x2="1728.9" y2="3089.8" class="w"/>
<line x1="1924.6" y1="2843.6" x2="2204.8" y2="2843.6" class="w"/>
<circle cx="1924.6" cy="2843.6" r="3.5" class="d"/>
<line x1="1924.6" y1="2906.8" x2="2204.8" y2="2906.8" class="w"/>
<circle cx="1924.6" cy="2906.8" r="3.5" class="d"/>
<line x1="1924.6" y1="2954.5" x2="2206.7" y2="2954.5" class="w"/>
<circle cx="1924.6" cy="2954.5" r="3.5" class="d"/>
<line x1="1924.6" y1="3024.7" x2="2206.7" y2="3024.7" class="w"/>
<circle cx="1924.6" cy="3024.7" r="3.5" class="d"/>
<line x1="1924.6" y1="3100.9" x2="2206.7" y2="3100.9" class="w"/>
<circle cx="1924.6" cy="3100.9" r="3.5" class="d"/>
<line x1="1998.5" y1="2843.6" x2="1998.5" y2="2872.4" class="w"/>
<line x1="1998.5" y1="2879" x2="1998.5" y2="2906.8" class="w"/>
<line x1="1981.8" y1="2872.4" x2="2015.2" y2="2872.4" class="w"/>
<line x1="1981.8" y1="2879" x2="2015.2" y2="2879" class="w"/>
<circle cx="1998.5" cy="2843.6" r="3.5" class="d"/>
<circle cx="1998.5" cy="2906.8" r="3.5" class="d"/>
<line x1="2065.4" y1="2843.6" x2="2065.4" y2="2867.6" class="w"/>
<line x1="2065.4" y1="2883.5" x2="2065.4" y2="2906.8" class="w"/>
<rect x="2046.9" y="2867.6" width="37" height="9.3" class="w"/>
<line x1="2044.9" y1="2883.5" x2="2085.9" y2="2883.5" class="w"/>
<line x1="2071.9" y1="2856.5" x2="2087.9" y2="2856.5" class="w"/>
<line x1="2079.9" y1="2848.5" x2="2079.9" y2="2864.5" class="w"/>
<circle cx="2065.4" cy="2843.6" r="3.5" class="d"/>
<circle cx="2065.4" cy="2906.8" r="3.5" class="d"/>
<line x1="2132.7" y1="2843.6" x2="2132.7" y2="2906.8" class="w"/>
<path d="M2132.7 2865.8 L2121.2 2880.6 L2144.2 2880.6 L2132.7 2865.8" class="w"/>
<path d="M2116.2 2860.3 L2123.7 2865.8 L2141.7 2865.8 L2149.2 2871.8" class="w"/>
<circle cx="2132.7" cy="2843.6" r="3.5" class="d"/>
<circle cx="2132.7" cy="2906.8" r="3.5" class="d"/>
<line x1="2204" y1="2843.6" x2="2204" y2="2864" class="w"/>
<line x1="2204" y1="2885.4" x2="2204" y2="2906.8" class="w"/>
<rect x="2194.2" y="2864" width="19.6" height="21.4" class="w"/>
<circle cx="2204" cy="2843.6" r="3.5" class="d"/>
<circle cx="2204" cy="2906.8" r="3.5" class="d"/>
<line x1="1999.6" y1="2954.5" x2="1999.6" y2="2983.3" class="w"/>
<line x1="1999.6" y1="2989.6" x2="1999.6" y2="3024.7" class="w"/>
<line x1="1982.9" y1="2983.3" x2="2016.3" y2="2983.3" class="w"/>
<line x1="1982.9" y1="2989.6" x2="2016.3" y2="2989.6" class="w"/>
<circle cx="1999.6" cy="2954.5" r="3.5" class="d"/>
<circle cx="1999.6" cy="3024.7" r="3.5" class="d"/>
<line x1="2068" y1="2954.5" x2="2068" y2="2981.5" class="w"/>
<line x1="2068" y1="2996.3" x2="2068" y2="3024.7" class="w"/>
<rect x="2049.5" y="2981.5" width="37" height="10" class="w"/>
<line x1="2047.5" y1="2996.3" x2="2088.5" y2="2996.3" class="w"/>
<line x1="2079.6" y1="2970.4" x2="2095.6" y2="2970.4" class="w"/>
<line x1="2087.6" y1="2962.4" x2="2087.6" y2="2978.4" class="w"/>
<circle cx="2068" cy="2954.5" r="3.5" class="d"/>
<circle cx="2068" cy="3024.7" r="3.5" class="d"/>
<line x1="2131.6" y1="2954.5" x2="2131.6" y2="3024.7" class="w"/>
<path d="M2131.6 2982.6 L2120.1 2998.9 L2143.1 2998.9 L2131.6 2982.6" class="w"/>
<path d="M2115.1 2977.1 L2122.6 2982.6 L2140.6 2982.6 L2148.1 2988.6" class="w"/>
<circle cx="2131.6" cy="2954.5" r="3.5" class="d"/>
<circle cx="2131.6" cy="3024.7" r="3.5" class="d"/>
<line x1="2205.9" y1="2954.5" x2="2205.9" y2="2981.5" class="w"/>
<line x1="2205.9" y1="3004.4" x2="2205.9" y2="3024.7" class="w"/>
<rect x="2196.9" y="2981.5" width="18" height="22.9" class="w"/>
<circle cx="2205.9" cy="2954.5" r="3.5" class="d"/>
<circle cx="2205.9" cy="3024.7" r="3.5" class="d"/>
<line x1="1999.6" y1="3024.7" x2="1999.6" y2="3063.9" class="w"/>
<line x1="1999.6" y1="3070.2" x2="1999.6" y2="3100.9" class="w"/>
<line x1="1982.9" y1="3063.9" x2="2016.3" y2="3063.9" class="w"/>
<line x1="1982.9" y1="3070.2" x2="2016.3" y2="3070.2" class="w"/>
<circle cx="1999.6" cy="3024.7" r="3.5" class="d"/>
<circle cx="1999.6" cy="3100.9" r="3.5" class="d"/>
<line x1="2068" y1="3024.7" x2="2068" y2="3059.9" class="w"/>
<line x1="2068" y1="3074.6" x2="2068" y2="3100.9" class="w"/>
<rect x="2049.5" y="3059.9" width="37" height="9.2" class="w"/>
<line x1="2047.5" y1="3074.6" x2="2088.5" y2="3074.6" class="w"/>
<line x1="2079.6" y1="3051.7" x2="2095.6" y2="3051.7" class="w"/>
<line x1="2087.6" y1="3043.7" x2="2087.6" y2="3059.7" class="w"/>
<circle cx="2068" cy="3024.7" r="3.5" class="d"/>
<circle cx="2068" cy="3100.9" r="3.5" class="d"/>
<line x1="2131.6" y1="3024.7" x2="2131.6" y2="3100.9" class="w"/>
<path d="M2131.6 3059.1 L2120.1 3074.6 L2143.1 3074.6 L2131.6 3059.1" class="w"/>
<path d="M2115.1 3053.6 L2122.6 3059.1 L2140.6 3059.1 L2148.1 3065.1" class="w"/>
<circle cx="2131.6" cy="3024.7" r="3.5" class="d"/>
<circle cx="2131.6" cy="3100.9" r="3.5" class="d"/>
<line x1="2205.9" y1="3024.7" x2="2205.9" y2="3058" class="w"/>
<line x1="2205.9" y1="3080.2" x2="2205.9" y2="3100.9" class="w"/>
<rect x="2196.1" y="3058" width="19.6" height="22.2" class="w"/>
<circle cx="2205.9" cy="3024.7" r="3.5" class="d"/>
<circle cx="2205.9" cy="3100.9" r="3.5" class="d"/>
<text x="1325.9" y="2889.5" font-size="24" stroke-width="0.17" textLength="69.9" lengthAdjust="spacingAndGlyphs">AC(L)</text>
<text x="1325" y="2986.4" font-size="24" stroke-width="0.17" textLength="77.1" lengthAdjust="spacingAndGlyphs">AC(N)</text>
<text x="1435.5" y="2865.1" font-size="24" stroke-width="0.17" textLength="65.9" lengthAdjust="spacingAndGlyphs">FUSE</text>
<text x="1544.7" y="2865.1" font-size="24" stroke-width="0.17" textLength="58.7" lengthAdjust="spacingAndGlyphs">NTC</text>
<text x="1548.2" y="2940.2" font-size="24" stroke-width="0.17" textLength="69.1" lengthAdjust="spacingAndGlyphs">MOV</text>
<text x="1719.6" y="2894.7" font-size="24" stroke-width="0.17" textLength="66.8" lengthAdjust="spacingAndGlyphs">AC(L)</text>
<text x="1734.4" y="2941.3" font-size="24" stroke-width="0.17" textLength="93.7" lengthAdjust="spacingAndGlyphs">ACDC</text>
<text x="1717.7" y="2988.2" font-size="24" stroke-width="0.17" textLength="85" lengthAdjust="spacingAndGlyphs">AC(N)</text>
<text x="1876.4" y="2853.7" font-size="20" stroke-width="0.14" textLength="14.3" lengthAdjust="spacingAndGlyphs">+</text>
<text x="1850.8" y="2887.6" font-size="24" stroke-width="0.17" textLength="43.6" lengthAdjust="spacingAndGlyphs">Vo1</text>
<text x="1863.9" y="2914" font-size="20" stroke-width="0.14" textLength="14.2" lengthAdjust="spacingAndGlyphs">−</text>
<text x="1829.7" y="2967.2" font-size="24" stroke-width="0.17" textLength="67.7" lengthAdjust="spacingAndGlyphs">+Vo2</text>
<text x="1841.8" y="3033.3" font-size="24" stroke-width="0.17" textLength="67.4" lengthAdjust="spacingAndGlyphs">Com</text>
<text x="1842.3" y="3111.3" font-size="24" stroke-width="0.17" textLength="58.9" lengthAdjust="spacingAndGlyphs">-Vo2</text>
<text x="1982.3" y="2834.8" font-size="24" stroke-width="0.17" textLength="36.1" lengthAdjust="spacingAndGlyphs">C1</text>
<text x="2045.5" y="2834.8" font-size="24" stroke-width="0.17" textLength="38.8" lengthAdjust="spacingAndGlyphs">C2</text>
<text x="2103.4" y="2834.8" font-size="24" stroke-width="0.17" textLength="59.3" lengthAdjust="spacingAndGlyphs">TVS1</text>
<text x="2194.4" y="2834.8" font-size="24" stroke-width="0.17" textLength="30.8" lengthAdjust="spacingAndGlyphs">RL</text>
<text x="1978.5" y="2949.4" font-size="24" stroke-width="0.17" textLength="38" lengthAdjust="spacingAndGlyphs">C3</text>
<text x="2048" y="2949.4" font-size="24" stroke-width="0.17" textLength="37.5" lengthAdjust="spacingAndGlyphs">C4</text>
<text x="2095.2" y="2949.4" font-size="24" stroke-width="0.17" textLength="61.5" lengthAdjust="spacingAndGlyphs">TVS2</text>
<text x="2191.8" y="2949.4" font-size="24" stroke-width="0.17" textLength="30.4" lengthAdjust="spacingAndGlyphs">RL</text>
<text x="1979.5" y="3129.5" font-size="24" stroke-width="0.17" textLength="38.8" lengthAdjust="spacingAndGlyphs">C5</text>
<text x="2049.9" y="3129.5" font-size="24" stroke-width="0.17" textLength="37.9" lengthAdjust="spacingAndGlyphs">C6</text>
<text x="2098.2" y="3129.5" font-size="24" stroke-width="0.17" textLength="61.4" lengthAdjust="spacingAndGlyphs">TVS3</text>
<text x="2189" y="3129.5" font-size="24" stroke-width="0.17" textLength="31.4" lengthAdjust="spacingAndGlyphs">RL</text>
<text x="1484.1" y="3177.9" font-size="33" stroke-width="0.23" textLength="620.7" lengthAdjust="spacingAndGlyphs">图 4：LHxx-10Cxx(三路)系列典型应用电路</text>
<defs><linearGradient id="fb" x1="0" y1="0" x2="1" y2="0"><stop offset="0" stop-color="#0380c0"/><stop offset="0.45" stop-color="#0a7cbe"/><stop offset="0.8" stop-color="#1a72b8"/></linearGradient></defs>
<path d="M500 3333 L2357 3333 L2357 3386 L500 3386 Z" fill="#cce9fc"/>
<line x1="505" y1="3386.5" x2="2357" y2="3386.5" stroke="#b9d9ef" stroke-width="4"/>
<path d="M129.3 3331.3 L569.5 3331.3 L477.4 3425 L129.3 3425 Z" fill="#a9c6e2"/>
<defs><pattern id="ck" width="36" height="36" patternUnits="userSpaceOnUse"><rect width="18" height="18" fill="#fff" fill-opacity="0.16"/><rect x="18" y="18" width="18" height="18" fill="#fff" fill-opacity="0.16"/></pattern><linearGradient id="ckf" x1="0" y1="0" x2="1" y2="0"><stop offset="0" stop-color="#fff"/><stop offset="1" stop-color="#000"/></linearGradient><mask id="ckm"><rect x="129" y="3331" width="260" height="94" fill="url(#ckf)"/></mask></defs>
<rect x="129.3" y="3331.3" width="260" height="93.7" fill="url(#ck)" mask="url(#ckm)"/>
<path d="M655 3247 L2357 3247 L2357 3333 L571 3333 Z" fill="#1a72b8"/>
<path d="M608 3295.5 L2357 3295.5 L2357 3333 L571 3333 Z" fill="url(#fb)"/>
<path d="M575.5 3328.3 L2357 3328.3 L2357 3333 L571 3333 Z" fill="#0a66b8"/>
<line x1="650" y1="3241.5" x2="2357" y2="3241.5" stroke="#d6d6d6" stroke-width="1.5"/>
<rect x="159.5" y="3249" width="372" height="61.5" fill="#f6f6f6"/>
<text transform="translate(173.3 3301) scale(0.94 1)" font-size="64" font-weight="bold" class="sf" letter-spacing="6.6" stroke-width="0.8" style="color:#1c6cb4">MORNSUN</text>
<text x="531" y="3270.5" font-size="14" stroke-width="0.07" font-weight="bold" style="color:#4a88c0">®</text>
<rect x="1776.6" y="3264.6" width="526.4" height="52.8" fill="#1478bc"/>
<text x="1778.2" y="3293.2" font-size="29.5" stroke-width="0.14" textLength="525.1" lengthAdjust="spacingAndGlyphs" font-weight="bold" style="color:#eef8ff">广州金升阳科技有限公司</text>
<text x="1778.3" y="3312.4" font-size="15.5" stroke-width="0.07" textLength="518" lengthAdjust="spacingAndGlyphs" font-weight="bold" style="color:#cfeafc">MORNSUN GUANGZHOU SCIENCE &amp; TECHNOLOGY CO.,LTD.</text>
<text x="1774.2" y="3375.7" font-size="31" stroke-width="0.25" textLength="209.9" lengthAdjust="spacingAndGlyphs">2014.11.12-B/2</text>
<text x="2046.4" y="3375.3" font-size="30" stroke-width="0.24" textLength="254.8" lengthAdjust="spacingAndGlyphs">第 5 页 共 11 页</text>
<text x="1542" y="3425.1" font-size="30" stroke-width="0.24" textLength="780.5" lengthAdjust="spacingAndGlyphs">该版权及产品最终解释权归广州金升阳科技有限公司所有</text>
</svg>
</body></html>
